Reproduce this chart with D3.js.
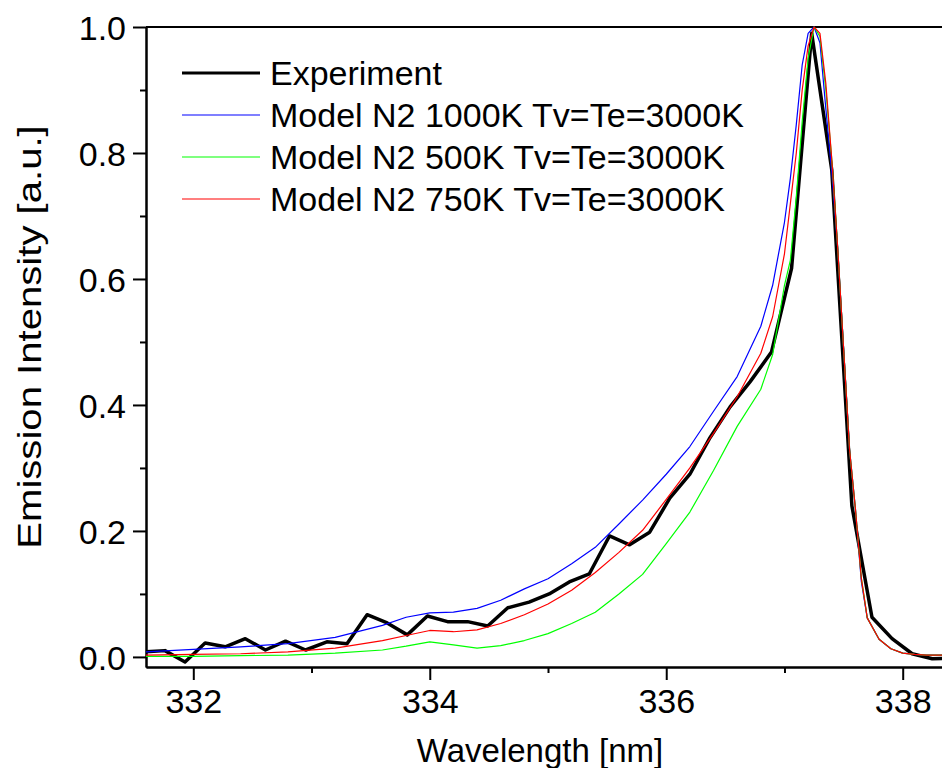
<!DOCTYPE html>
<html lang="en">
  <head>
  <meta charset="utf-8" />
  <title>Emission spectrum</title>
  <style>
    body { margin: 0; background: #fff; }
    svg text { font-family: "Liberation Sans", Arial, sans-serif; fill: #000; }
  </style>
  </head>
  <body>
    <div id="chart"></div>

    <script src="https://cdn.jsdelivr.net/npm/d3@7"></script>
    <script type="text/javascript">
      "use strict";

      // experiment (measured points)
      let expWavelength = [331.59, 331.76, 331.93, 332.10, 332.27, 332.44, 332.61, 332.78, 332.95, 333.13,
        333.30, 333.47, 333.64, 333.81, 333.98, 334.15, 334.32, 334.49, 334.66, 334.84,
        335.01, 335.18, 335.35, 335.52, 335.69, 335.86, 336.03, 336.20, 336.37, 336.54,
        336.71, 336.89, 337.06, 337.23, 337.40, 337.57, 337.74, 337.91, 338.08, 338.25, 338.42]
      let expIntensity = [0.008, 0.010, -0.008, 0.022, 0.016, 0.029, 0.011, 0.025, 0.011, 0.024,
        0.021, 0.067, 0.054, 0.035, 0.065, 0.056, 0.056, 0.049, 0.078, 0.087,
        0.100, 0.119, 0.132, 0.192, 0.178, 0.198, 0.252, 0.290, 0.348, 0.397,
        0.437, 0.484, 0.617, 0.990, 0.773, 0.240, 0.063, 0.029, 0.005, -0.003, -0.002]

      // model curves, common wavelength grid
      let modelWavelength = [331.6, 332.0, 332.4, 332.8, 333.2, 333.6, 333.8, 334.0, 334.2, 334.4,
        334.6, 334.8, 335.0, 335.2, 335.4, 335.6, 335.8, 336.0, 336.2, 336.4,
        336.6, 336.8, 336.9, 337.0, 337.05, 337.1, 337.15, 337.2, 337.25, 337.3,
        337.35, 337.4, 337.45, 337.5, 337.55, 337.6, 337.65, 337.7, 337.8, 337.9,
        338.0, 338.1, 338.2, 338.4]
      let model1000 = [0.008, 0.012, 0.016, 0.021, 0.031, 0.050, 0.063, 0.070, 0.071, 0.077,
        0.090, 0.108, 0.124, 0.148, 0.174, 0.211, 0.249, 0.290, 0.334, 0.390,
        0.445, 0.525, 0.590, 0.690, 0.760, 0.845, 0.940, 0.990, 1.000, 0.975,
        0.870, 0.770, 0.650, 0.490, 0.330, 0.235, 0.120, 0.062, 0.028, 0.013,
        0.006, 0.004, 0.003, 0.003]
      let model500 = [0.001, 0.001, 0.002, 0.003, 0.006, 0.011, 0.017, 0.024, 0.019, 0.014,
        0.018, 0.026, 0.037, 0.053, 0.071, 0.100, 0.131, 0.180, 0.230, 0.296,
        0.366, 0.425, 0.480, 0.590, 0.630, 0.730, 0.850, 0.950, 1.000, 0.985,
        0.900, 0.790, 0.650, 0.490, 0.330, 0.235, 0.125, 0.062, 0.028, 0.013,
        0.006, 0.004, 0.003, 0.003]
      let model750 = [0.003, 0.004, 0.005, 0.008, 0.014, 0.026, 0.034, 0.042, 0.040, 0.043,
        0.053, 0.067, 0.084, 0.106, 0.134, 0.166, 0.201, 0.250, 0.300, 0.355,
        0.413, 0.482, 0.540, 0.640, 0.720, 0.800, 0.900, 0.970, 1.000, 0.990,
        0.910, 0.790, 0.650, 0.490, 0.330, 0.235, 0.125, 0.062, 0.028, 0.013,
        0.006, 0.004, 0.003, 0.003]

      let seriesNames = ["Experiment", "Model N2 1000K Tv=Te=3000K", "Model N2 500K Tv=Te=3000K", "Model N2 750K Tv=Te=3000K"]
      let seriesColors = ["#000000", "#0000ff", "#00ff00", "#ff0000"]

      let xMajor = [332, 334, 336, 338]
      let xMinor = [333, 335, 337]
      let yMajor = [0.0, 0.2, 0.4, 0.6, 0.8, 1.0]
      let yMinor = [0.1, 0.3, 0.5, 0.7, 0.9]

      let width = 942
      let height = 768
      let plot = {left: 146, right: 950, top: 27, bottom: 667}

      let svg = d3.select("#chart").append("svg")
          .attr("width", width)
          .attr("height", height)

      let x = d3.scaleLinear().domain([331.6, 338.4]).range([plot.left, plot.right])
      let y = d3.scaleLinear().domain([-0.016, 1.0]).range([plot.bottom, plot.top])

      svg.append("clipPath").attr("id", "clip")
        .append("rect")
          .attr("x", plot.left).attr("y", plot.top - 2)
          .attr("width", plot.right - plot.left).attr("height", plot.bottom - plot.top + 2)

      // axes
      let styleAxis = g => {
        g.select(".domain").attr("stroke-width", 2)
        g.selectAll(".tick line").attr("stroke-width", 2)
        g.selectAll(".tick text").attr("font-size", 34).attr("font-family", null)
      }

      svg.append("g")
          .attr("transform", `translate(0,${plot.bottom})`)
          .call(d3.axisBottom(x).tickValues(xMinor).tickSize(6).tickFormat("").tickSizeOuter(0))
          .call(styleAxis)
      svg.append("g")
          .attr("transform", `translate(0,${plot.bottom})`)
          .call(d3.axisBottom(x).tickValues(xMajor).tickSize(13).tickPadding(9).tickFormat(d3.format("d")).tickSizeOuter(0))
          .call(styleAxis)

      svg.append("g")
          .attr("transform", `translate(${plot.left},0)`)
          .call(d3.axisLeft(y).tickValues(yMinor).tickSize(6).tickFormat("").tickSizeOuter(0))
          .call(styleAxis)
      svg.append("g")
          .attr("transform", `translate(${plot.left},0)`)
          .call(d3.axisLeft(y).tickValues(yMajor).tickSize(13).tickPadding(7).tickFormat(d3.format(".1f")).tickSizeOuter(0))
          .call(styleAxis)
          .selectAll(".tick text").attr("dy", "0.36em")

      // top and right frame
      svg.append("line")
          .attr("x1", plot.left).attr("x2", plot.right)
          .attr("y1", plot.top).attr("y2", plot.top)
          .attr("stroke", "#000").attr("stroke-width", 2)
      svg.append("line")
          .attr("x1", plot.right).attr("x2", plot.right)
          .attr("y1", plot.top).attr("y2", plot.bottom)
          .attr("stroke", "#000").attr("stroke-width", 2)

      // axis titles
      svg.append("text")
          .attr("x", 540).attr("y", 762)
          .attr("text-anchor", "middle")
          .attr("font-size", 33)
          .text("Wavelength [nm]")
      svg.append("text")
          .attr("transform", "translate(41,337) rotate(-90) scale(1.18,1)")
          .attr("text-anchor", "middle")
          .attr("font-size", 34)
          .text("Emission Intensity [a.u.]")

      // lines
      let line = d3.line()
        .x(d => x(d[0]))
        .y(d => y(d[1]))

      let series = [
        d3.zip(expWavelength, expIntensity),
        d3.zip(modelWavelength, model1000),
        d3.zip(modelWavelength, model500),
        d3.zip(modelWavelength, model750)
      ]
      let widths = [3.5, 1.2, 1.2, 1.2]

      let lines = svg.append("g").attr("clip-path", "url(#clip)")
      series.forEach((s, i) => {
        lines.append("path")
            .datum(s)
            .attr("fill", "none")
            .attr("stroke", seriesColors[i])
            .attr("stroke-width", widths[i])
            .attr("stroke-linejoin", "round")
            .attr("d", line)
      })

      // legend
      let legend = svg.append("g")
      seriesNames.forEach((name, i) => {
        let ly = 73 + i * 42
        legend.append("line")
            .attr("x1", 182).attr("x2", 260)
            .attr("y1", ly).attr("y2", ly)
            .attr("stroke", seriesColors[i])
            .attr("stroke-width", i == 0 ? 3 : 1.2)
        legend.append("text")
            .attr("x", 270).attr("y", ly + 12)
            .attr("font-size", 34)
            .text(name)
      })
    </script>
  </body>
</html>
